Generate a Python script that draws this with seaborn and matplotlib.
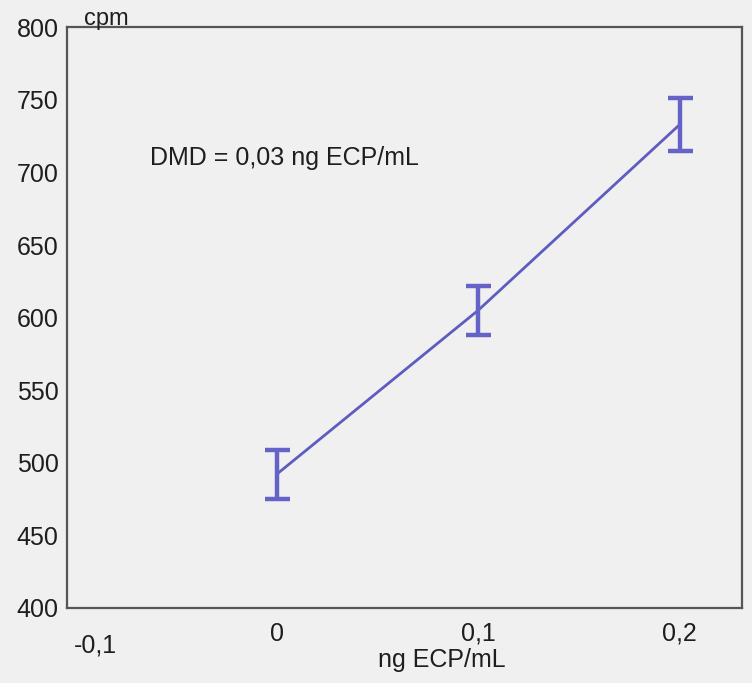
import matplotlib
matplotlib.use("Agg")
import matplotlib.pyplot as plt
import matplotlib.transforms as mtransforms
import seaborn as sns
import pandas as pd

# Calibration points: ECP concentration vs. counts per minute
conc = [0.0, 0.1, 0.2]
cpm_mean = [492, 605, 733]
cpm_err = [17, 17, 18]

x_ticks = [-0.1, 0.0, 0.1, 0.2]
x_ticklabels = ["-0,1", "0", "0,1", "0,2"]
y_ticks = [400, 450, 500, 550, 600, 650, 700, 750, 800]
annotation = "DMD = 0,03 ng ECP/mL"

sns.set_theme(style="white")
plt.rcParams["font.family"] = ["Liberation Sans", "DejaVu Sans"]

bg = "#f0f0f0"
line_col = "#5f5cc0"
spine_col = "#555555"
text_col = "#1e1e1e"
fs = 18

fig = plt.figure(figsize=(7.52, 6.83), dpi=100, facecolor=bg)
ax = fig.add_axes([0.089, 0.110, 0.898, 0.850], facecolor=bg)

df = pd.DataFrame({"conc": conc, "cpm": cpm_mean})
sns.lineplot(data=df, x="conc", y="cpm", ax=ax, color=line_col, linewidth=2)
ax.errorbar(conc, cpm_mean, yerr=cpm_err, fmt="none", ecolor="#6562c8",
            elinewidth=3.2, capsize=9, capthick=3.2)

ax.set_xlim(-0.104, 0.231)
ax.set_ylim(400, 800)
ax.set_xticks(x_ticks)
ax.set_xticklabels(x_ticklabels)
ax.set_yticks(y_ticks)
ax.tick_params(axis="both", direction="in", length=7, width=1,
               color="#c8c8c8", labelsize=fs, labelcolor=text_col)
ax.tick_params(axis="x", pad=10)
ax.tick_params(axis="y", pad=6)

# Push the "-0,1" label down and right, away from "400"
first = ax.get_xticklabels()[0]
first.set_transform(first.get_transform() +
                    mtransforms.ScaledTranslation(0.20, -0.12, fig.dpi_scale_trans))

for side in ["left", "bottom", "top", "right"]:
    ax.spines[side].set_visible(True)
    ax.spines[side].set_color(spine_col)
    ax.spines[side].set_linewidth(1.6)

ax.set_xlabel("")
ax.set_ylabel("")
fig.text(0.112, 0.972, "cpm", fontsize=fs - 1, color=text_col, ha="left", va="center")
fig.text(0.587, 0.033, "ng ECP/mL", fontsize=fs, color=text_col, ha="center", va="center")
ax.text(-0.063, 710, annotation, fontsize=fs, color=text_col, ha="left", va="center")

fig.savefig("out.png", dpi=100, facecolor=bg)
